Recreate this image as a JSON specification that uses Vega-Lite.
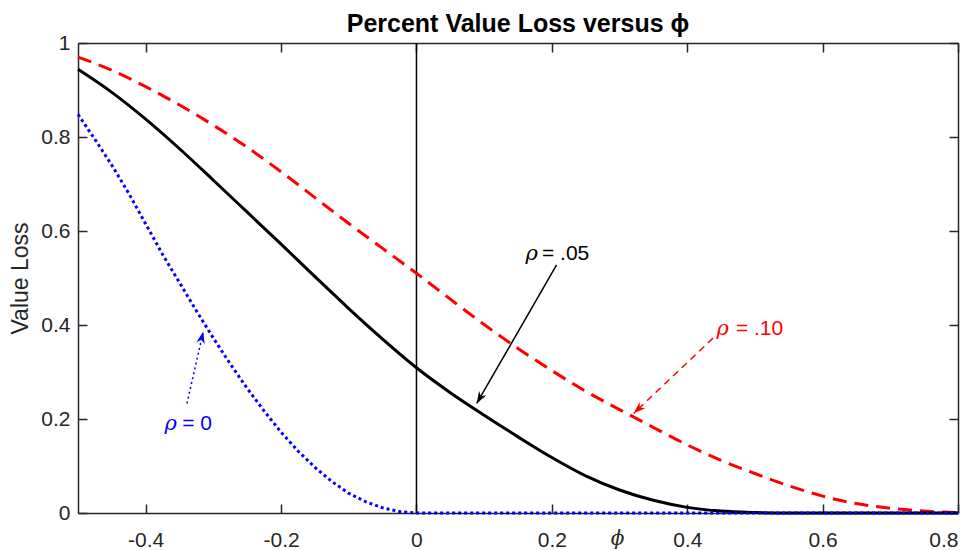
{
  "$schema": "https://vega.github.io/schema/vega-lite/v6.json",
  "width": 880,
  "height": 470,
  "autosize": {"type": "none"},
  "padding": {"left": 78, "top": 43, "right": 18, "bottom": 37},
  "background": "white",
  "title": {"text": "Percent Value Loss versus ϕ", "fontSize": 25, "fontWeight": "bold", "font": "Liberation Sans", "color": "#000000", "anchor": "middle", "baseline": "bottom", "offset": -30},
  "config": {
    "view": {"stroke": null},
    "font": "Liberation Sans",
    "axis": {"grid": false, "domainColor": "#262626", "domainWidth": 1.5, "tickColor": "#262626", "tickWidth": 1.5, "labelColor": "#262626", "labelFont": "Liberation Sans", "labelFontSize": 21, "titleColor": "#262626", "titleFontWeight": "normal", "tickSize": -9}
  },
  "datasets": {
    "rho0": [
      {"phi": -0.5, "v": 0.848}, {"phi": -0.475, "v": 0.795}, {"phi": -0.45, "v": 0.74}, {"phi": -0.425, "v": 0.68},
      {"phi": -0.4, "v": 0.615}, {"phi": -0.375, "v": 0.55}, {"phi": -0.35, "v": 0.49}, {"phi": -0.325, "v": 0.43},
      {"phi": -0.3, "v": 0.372}, {"phi": -0.275, "v": 0.317}, {"phi": -0.25, "v": 0.265}, {"phi": -0.225, "v": 0.217},
      {"phi": -0.2, "v": 0.172}, {"phi": -0.175, "v": 0.132}, {"phi": -0.15, "v": 0.097}, {"phi": -0.125, "v": 0.067},
      {"phi": -0.1, "v": 0.042}, {"phi": -0.075, "v": 0.024}, {"phi": -0.05, "v": 0.011}, {"phi": -0.025, "v": 0.003},
      {"phi": 0, "v": 0}, {"phi": 0.8, "v": 0}
    ],
    "rho05": [
      {"phi": -0.5, "v": 0.944}, {"phi": -0.45, "v": 0.895}, {"phi": -0.4, "v": 0.838}, {"phi": -0.35, "v": 0.775},
      {"phi": -0.3, "v": 0.708}, {"phi": -0.25, "v": 0.64}, {"phi": -0.2, "v": 0.572}, {"phi": -0.15, "v": 0.503},
      {"phi": -0.1, "v": 0.435}, {"phi": -0.05, "v": 0.37}, {"phi": 0, "v": 0.309}, {"phi": 0.05, "v": 0.256},
      {"phi": 0.1, "v": 0.208}, {"phi": 0.15, "v": 0.162}, {"phi": 0.2, "v": 0.118}, {"phi": 0.25, "v": 0.079},
      {"phi": 0.3, "v": 0.049}, {"phi": 0.35, "v": 0.027}, {"phi": 0.4, "v": 0.012}, {"phi": 0.45, "v": 0.004},
      {"phi": 0.5, "v": 0.001}, {"phi": 0.55, "v": 0}, {"phi": 0.8, "v": 0}
    ],
    "rho10": [
      {"phi": -0.5, "v": 0.97}, {"phi": -0.45, "v": 0.942}, {"phi": -0.4, "v": 0.907}, {"phi": -0.35, "v": 0.868},
      {"phi": -0.3, "v": 0.825}, {"phi": -0.25, "v": 0.778}, {"phi": -0.2, "v": 0.726}, {"phi": -0.15, "v": 0.671},
      {"phi": -0.1, "v": 0.616}, {"phi": -0.05, "v": 0.563}, {"phi": 0, "v": 0.51}, {"phi": 0.05, "v": 0.455},
      {"phi": 0.1, "v": 0.401}, {"phi": 0.15, "v": 0.35}, {"phi": 0.2, "v": 0.303}, {"phi": 0.25, "v": 0.259},
      {"phi": 0.3, "v": 0.22}, {"phi": 0.35, "v": 0.182}, {"phi": 0.4, "v": 0.145}, {"phi": 0.45, "v": 0.112},
      {"phi": 0.5, "v": 0.084}, {"phi": 0.55, "v": 0.058}, {"phi": 0.6, "v": 0.036}, {"phi": 0.65, "v": 0.02},
      {"phi": 0.7, "v": 0.01}, {"phi": 0.75, "v": 0.004}, {"phi": 0.8, "v": 0.001}
    ],
    "vline": [{"phi": 0, "v": 0, "v2": 1}],
    "arrow05": [{"phi": 0.207, "v": 0.528, "phi2": 0.089, "v2": 0.233}],
    "arrow10": [{"phi": 0.438, "v": 0.372, "phi2": 0.321, "v2": 0.212}],
    "arrow0": [{"phi": -0.339, "v": 0.233, "phi2": -0.315, "v2": 0.386}],
    "label05": [{"phi": 0.1795, "v": 0.538, "phi2": 0.1854, "sym": "ρ", "label": "= .05"}],
    "label10": [{"phi": 0.4616, "v": 0.379, "phi2": 0.4719, "sym": "ρ", "label": "= .10"}],
    "label0": [{"phi": -0.354, "v": 0.177, "phi2": -0.346, "sym": "ρ", "label": "= 0"}]
  },
  "resolve": {"axis": {"x": "independent", "y": "independent"}},
  "layer": [
    {
      "data": {"name": "vline"},
      "mark": {"type": "rule", "color": "#000000", "strokeWidth": 1.5},
      "encoding": {
        "x": {"field": "phi", "type": "quantitative", "scale": {"domain": [-0.5, 0.8], "nice": false, "zero": false},
              "axis": {"orient": "bottom", "values": [-0.4, -0.2, 0, 0.2, 0.4, 0.6, 0.8], "format": "~g", "labelExpr": "replace(datum.label, '−', '-')", "labelPadding": 25, "title": "ϕ", "titleFont": "DejaVu Serif", "titleFontStyle": "italic", "titleFontSize": 20, "titleX": 539, "titleY": 31, "titleBaseline": "alphabetic", "titleAlign": "center", "titleColor": "#262626"}},
        "y": {"field": "v", "type": "quantitative", "scale": {"domain": [0, 1], "nice": false},
              "axis": {"orient": "left", "values": [0, 0.2, 0.4, 0.6, 0.8, 1], "format": "~g", "labelPadding": 17, "title": "Value Loss", "titleFont": "Liberation Sans", "titleFontSize": 23, "titleX": -51, "titleBaseline": "alphabetic"}},
        "y2": {"field": "v2"}
      }
    },
    {
      "data": {"name": "rho10"},
      "mark": {"type": "line", "color": "#FF0000", "strokeWidth": 3, "strokeDash": [14, 8], "interpolate": "monotone"},
      "encoding": {
        "x": {"field": "phi", "type": "quantitative", "axis": {"orient": "top", "values": [-0.4, -0.2, 0, 0.2, 0.4, 0.6, 0.8], "labels": false, "title": null}},
        "y": {"field": "v", "type": "quantitative", "axis": {"orient": "right", "values": [0, 0.2, 0.4, 0.6, 0.8, 1], "labels": false, "title": null}}
      }
    },
    {
      "data": {"name": "rho05"},
      "mark": {"type": "line", "color": "#000000", "strokeWidth": 3, "interpolate": "monotone"},
      "encoding": {
        "x": {"field": "phi", "type": "quantitative", "axis": null},
        "y": {"field": "v", "type": "quantitative", "axis": null}
      }
    },
    {
      "data": {"name": "rho0"},
      "mark": {"type": "line", "color": "#0000FF", "strokeWidth": 3, "strokeDash": [3, 3], "strokeCap": "butt"},
      "encoding": {
        "x": {"field": "phi", "type": "quantitative", "axis": null},
        "y": {"field": "v", "type": "quantitative", "axis": null}
      }
    },
    {
      "data": {"name": "arrow05"},
      "mark": {"type": "rule", "color": "#000000", "strokeWidth": 1.5},
      "encoding": {
        "x": {"field": "phi", "type": "quantitative", "axis": null},
        "y": {"field": "v", "type": "quantitative", "axis": null},
        "x2": {"field": "phi2"}, "y2": {"field": "v2"}
      }
    },
    {
      "data": {"name": "arrow10"},
      "mark": {"type": "rule", "color": "#FF0000", "strokeWidth": 1.5, "strokeDash": [7, 5]},
      "encoding": {
        "x": {"field": "phi", "type": "quantitative", "axis": null},
        "y": {"field": "v", "type": "quantitative", "axis": null},
        "x2": {"field": "phi2"}, "y2": {"field": "v2"}
      }
    },
    {
      "data": {"name": "arrow0"},
      "mark": {"type": "rule", "color": "#0000FF", "strokeWidth": 1.5, "strokeDash": [2, 3]},
      "encoding": {
        "x": {"field": "phi", "type": "quantitative", "axis": null},
        "y": {"field": "v", "type": "quantitative", "axis": null},
        "x2": {"field": "phi2"}, "y2": {"field": "v2"}
      }
    },
    {
      "data": {"name": "arrow05"},
      "mark": {"type": "point", "shape": "M0,0 L-0.7,2 L0,1.4 L0.7,2 Z", "size": 144, "filled": true, "color": "#000000", "opacity": 1, "angle": 210},
      "encoding": {
        "x": {"field": "phi2", "type": "quantitative", "axis": null},
        "y": {"field": "v2", "type": "quantitative", "axis": null}
      }
    },
    {
      "data": {"name": "arrow10"},
      "mark": {"type": "point", "shape": "M0,0 L-0.7,2 L0,1.4 L0.7,2 Z", "size": 144, "filled": true, "color": "#FF0000", "opacity": 1, "angle": 226.6},
      "encoding": {
        "x": {"field": "phi2", "type": "quantitative", "axis": null},
        "y": {"field": "v2", "type": "quantitative", "axis": null}
      }
    },
    {
      "data": {"name": "arrow0"},
      "mark": {"type": "point", "shape": "M0,0 L-0.7,2 L0,1.4 L0.7,2 Z", "size": 144, "filled": true, "color": "#0000FF", "opacity": 1, "angle": 13},
      "encoding": {
        "x": {"field": "phi2", "type": "quantitative", "axis": null},
        "y": {"field": "v2", "type": "quantitative", "axis": null}
      }
    },
    {
      "data": {"name": "label05"},
      "mark": {"type": "text", "color": "#000000", "fontSize": 21, "font": "DejaVu Serif", "fontStyle": "italic", "align": "right", "baseline": "alphabetic"},
      "encoding": {
        "x": {"field": "phi", "type": "quantitative", "axis": null},
        "y": {"field": "v", "type": "quantitative", "axis": null},
        "text": {"field": "sym"}
      }
    },
    {
      "data": {"name": "label05"},
      "mark": {"type": "text", "color": "#000000", "fontSize": 21, "font": "Liberation Sans", "align": "left", "baseline": "alphabetic"},
      "encoding": {
        "x": {"field": "phi2", "type": "quantitative", "axis": null},
        "y": {"field": "v", "type": "quantitative", "axis": null},
        "text": {"field": "label"}
      }
    },
    {
      "data": {"name": "label10"},
      "mark": {"type": "text", "color": "#FF0000", "fontSize": 21, "font": "DejaVu Serif", "fontStyle": "italic", "align": "right", "baseline": "alphabetic"},
      "encoding": {
        "x": {"field": "phi", "type": "quantitative", "axis": null},
        "y": {"field": "v", "type": "quantitative", "axis": null},
        "text": {"field": "sym"}
      }
    },
    {
      "data": {"name": "label10"},
      "mark": {"type": "text", "color": "#FF0000", "fontSize": 21, "font": "Liberation Sans", "align": "left", "baseline": "alphabetic"},
      "encoding": {
        "x": {"field": "phi2", "type": "quantitative", "axis": null},
        "y": {"field": "v", "type": "quantitative", "axis": null},
        "text": {"field": "label"}
      }
    },
    {
      "data": {"name": "label0"},
      "mark": {"type": "text", "color": "#0000FF", "fontSize": 21, "font": "DejaVu Serif", "fontStyle": "italic", "align": "right", "baseline": "alphabetic"},
      "encoding": {
        "x": {"field": "phi", "type": "quantitative", "axis": null},
        "y": {"field": "v", "type": "quantitative", "axis": null},
        "text": {"field": "sym"}
      }
    },
    {
      "data": {"name": "label0"},
      "mark": {"type": "text", "color": "#0000FF", "fontSize": 21, "font": "Liberation Sans", "align": "left", "baseline": "alphabetic"},
      "encoding": {
        "x": {"field": "phi2", "type": "quantitative", "axis": null},
        "y": {"field": "v", "type": "quantitative", "axis": null},
        "text": {"field": "label"}
      }
    }
  ]
}
